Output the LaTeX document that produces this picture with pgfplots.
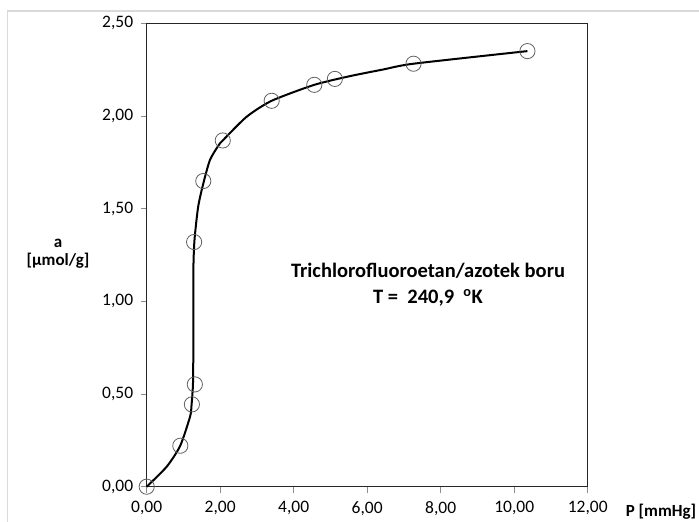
\documentclass[border=0pt]{standalone}
\usepackage{pgfplots}
\pgfplotsset{compat=1.18}
\usepackage{fontspec}
\setmainfont{Carlito}

\definecolor{framegray}{RGB}{217,217,217}
\definecolor{markgray}{RGB}{96,96,96}

\begin{document}
\begin{tikzpicture}
\useasboundingbox (0,0) rectangle (699pt,-522pt);
\draw[framegray, line width=1.5pt] (7.5pt,-522pt) -- (7.5pt,-11pt) -- (699pt,-11pt);
\begin{axis}[
  at={(146.7pt,-486.7pt)}, anchor=south west,
  scale only axis, width=441pt, height=463.4pt,
  xmin=0, xmax=12, ymin=0, ymax=2.5,
  xtick={0,2,...,12}, ytick={0,0.5,...,2.5},
  tick pos=left, tick align=outside, major tick length=6pt,
  axis line style={black!85, line width=1pt},
  every tick/.style={black!45, line width=0.8pt},
  tick label style={font=\fontsize{17.5}{19}\selectfont},
  xticklabel style={yshift=-5pt},
  yticklabel style={xshift=-4pt},
  clip=false,
  /pgf/number format/fixed,
  /pgf/number format/fixed zerofill,
  /pgf/number format/precision=2,
  /pgf/number format/use comma,
  /pgf/number format/assume math mode=true,
]
% trend line
\addplot[black, line width=2pt, smooth, tension=0.4] coordinates {
  (0,0) (0.544,0.108) (0.91,0.22) (1.18,0.378) (1.22,0.44) (1.26,0.56)
  (1.27,0.8) (1.27,1.167) (1.30,1.33) (1.40,1.51) (1.54,1.636)
  (1.72,1.762) (1.95,1.84) (2.07,1.868) (2.72,1.996) (3.40,2.082)
  (4.56,2.168) (5.53,2.215) (6.44,2.251) (7.26,2.282) (10.36,2.35)
};
% measured points
\addplot[only marks, mark=o, mark size=7.6pt,
  mark options={draw=markgray, line width=0.8pt}] coordinates {
  (0,0) (0.915,0.221) (1.23,0.444) (1.31,0.552) (1.29,1.32)
  (1.54,1.649) (2.07,1.868) (3.40,2.082) (4.56,2.168) (5.12,2.20)
  (7.26,2.282) (10.36,2.35)
};
\end{axis}
\node[font=\bfseries\fontsize{20.5}{26}\selectfont, align=center] at (428pt,-285pt)
  {Trichlorofluoroetan/azotek boru\\T =~~240,9~~\textsuperscript{o}K};
\node[font=\bfseries\fontsize{17}{18}\selectfont, align=center] at (58pt,-254pt)
  {a\\{[µmol/g]}};
\node[font=\bfseries\fontsize{17}{18}\selectfont] at (661pt,-512pt) {P [mmHg]};
\end{tikzpicture}
\end{document}
